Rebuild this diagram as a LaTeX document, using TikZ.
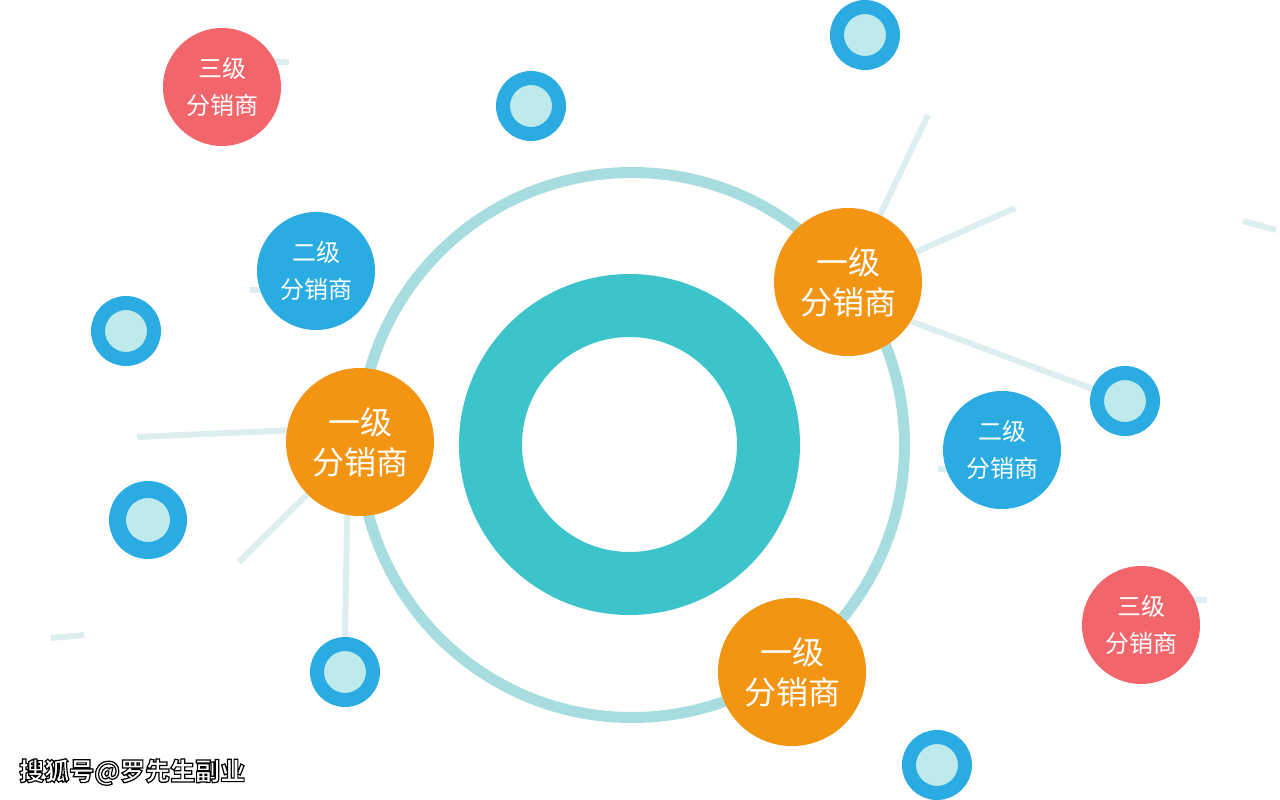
\documentclass[tikz,border=0pt]{standalone}
\usepackage{fontspec}
\newfontfamily\cjk{Noto Sans CJK SC}
\definecolor{ringC}{HTML}{3CC4CA}
\definecolor{thinC}{HTML}{A8DDE0}
\definecolor{orangeC}{HTML}{F39412}
\definecolor{blueC}{HTML}{2AACE3}
\definecolor{redC}{HTML}{F2666B}
\definecolor{paleC}{HTML}{BFEAEC}
\definecolor{lineC}{HTML}{DCEEF0}
\pgfdeclarelayer{back}
\pgfdeclarelayer{lines}
\pgfsetlayers{back,lines,main}
\newcommand\owm[1]{{\special{pdf:literal direct 2 Tr 1.2 w 0 G 1 g}#1\special{pdf:literal direct 0 Tr}}}
\tikzset{
  lvlone/.style={circle, fill=orangeC, minimum size=148pt, inner sep=0pt, text=white, align=center,
    font=\cjk\fontsize{32}{40}\selectfont},
  lvltwo/.style={circle, fill=blueC, minimum size=118pt, inner sep=0pt, text=white, align=center,
    font=\cjk\fontsize{24}{37}\selectfont},
  lvlthree/.style={lvltwo, fill=redC},
  smallring/.style={circle, draw=blueC, fill=paleC, line width=14pt, minimum size=56pt, inner sep=0pt},
  link/.style={draw=lineC, line width=6pt},
}
\begin{document}
\begin{tikzpicture}[x=1pt,y=-1pt]
\useasboundingbox (0,0) rectangle (1280,800);
\begin{pgfonlayer}{back}
\fill[white] (0,0) rectangle (1280,800);
\end{pgfonlayer}

% central ring and orbit
\draw[ringC, line width=63pt] (629.5,444.5) circle[radius=139];
\draw[thinC, line width=11pt] (632,445) circle[radius=272.5];

% level-one distributors
\node[lvlone] (o1) at (848,282) {一级\\分销商};
\node[lvlone] (o2) at (360,442) {一级\\分销商};
\node[lvlone] (o3) at (792,672) {一级\\分销商};

% level-two distributors
\node[lvltwo] (b1) at (316,271) {二级\\分销商};
\node[lvltwo] (b2) at (1002,450) {二级\\分销商};

% level-three distributors
\node[lvlthree] (r1) at (222,87) {三级\\分销商};
\node[lvlthree] (r2) at (1141,625) {三级\\分销商};

% small rings
\node[smallring] (s1) at (865,35) {};
\node[smallring] (s2) at (531,106) {};
\node[smallring] (s3) at (126,331) {};
\node[smallring, minimum size=61pt, line width=17pt] (s4) at (148,520) {};
\node[smallring] (s5) at (345,672) {};
\node[smallring] (s6) at (1125,401) {};
\node[smallring] (s7) at (937,765) {};

% free ends
\coordinate (e1) at (928,115);
\coordinate (e2) at (1015,208);
\coordinate (e3) at (137,437);
\coordinate (e4) at (239,562);
\coordinate (f1) at (1243,221);
\coordinate (f2) at (1276,230);
\coordinate (f3) at (51,638);
\coordinate (f4) at (84,635);
\coordinate (t1) at (289,62);
\coordinate (t2) at (250,290);
\coordinate (t3) at (938,469);
\coordinate (t4) at (1207,600);

\begin{pgfonlayer}{lines}
\draw[link] (o1.center) -- (e1);
\draw[link] (o1.center) -- (e2);
\draw[link] (o1.-32) -- (s6);
\draw[link] (o2.171) -- (e3);
\draw[link] (o2.center) -- (e4);
\draw[link] (o2.260) -- (s5.north);
\draw[link] (f1) -- (f2);
\draw[link] (f3) -- (f4);
\draw[link] (t1) -- (t1 -| r1.center);
\draw[link] (t2) -- (t2 -| b1.center);
\draw[link] (t3) -- (t3 -| b2.center);
\draw[link] (t4) -- (t4 -| r2.center);
\end{pgfonlayer}

% watermark
\node[anchor=west, inner sep=0pt, font=\cjk\bfseries\fontsize{25}{28}\selectfont] (wm) at (19,772) {\owm{搜狐号@罗先生副业}};
\end{tikzpicture}
\end{document}
